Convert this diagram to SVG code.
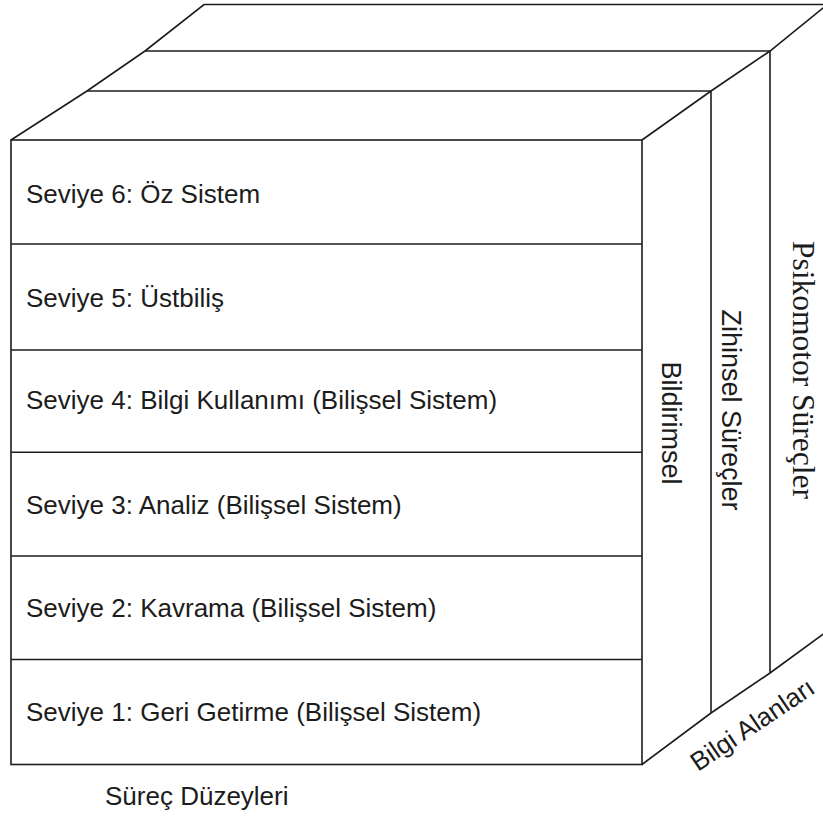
<svg xmlns="http://www.w3.org/2000/svg" width="823" height="816" viewBox="0 0 823 816">
  <style>
    .edge { fill: none; stroke: #1c1c1c; stroke-width: 1.6; stroke-linejoin: miter; }
    .lbl { font-family: "Liberation Sans", Arial, sans-serif; font-size: 26px; fill: #1c1c1c; }
    .serif { font-family: "Liberation Serif", "Times New Roman", serif; font-size: 31.5px; fill: #1c1c1c; }
  </style>
  <rect x="0" y="0" width="823" height="816" fill="#ffffff"/>

  <!-- top face of the cube: three bands receding to the back -->
  <g id="top-face">
    <polyline class="edge" points="11,140 87,91 145,51 204,4.5 823,4.5"/>
    <line class="edge" x1="87" y1="91" x2="711" y2="91"/>
    <line class="edge" x1="145" y1="51" x2="770" y2="51"/>
  </g>

  <!-- right side face: knowledge domains -->
  <g id="side-face">
    <polyline class="edge" points="642,140 711,91 770,51 828,4"/>
    <line class="edge" x1="711" y1="91" x2="711" y2="713"/>
    <line class="edge" x1="770" y1="51" x2="770" y2="673"/>
    <polyline class="edge" points="642,764.5 711,713 770,673 826,632"/>
  </g>

  <!-- front face: process levels -->
  <g id="front-face">
    <rect class="edge" x="11" y="140" width="631" height="624.5"/>
  </g>

  <g id="level-6">
    <text class="lbl" x="26" y="203">Seviye 6: Öz Sistem</text>
  </g>
  <g id="level-5">
    <line class="edge" x1="11" y1="244" x2="642" y2="244"/>
    <text class="lbl" x="26" y="307">Seviye 5: Üstbiliş</text>
  </g>
  <g id="level-4">
    <line class="edge" x1="11" y1="350" x2="642" y2="350"/>
    <text class="lbl" x="26" y="409">Seviye 4: Bilgi Kullanımı (Bilişsel Sistem)</text>
  </g>
  <g id="level-3">
    <line class="edge" x1="11" y1="452.3" x2="642" y2="452.3"/>
    <text class="lbl" x="26" y="514">Seviye 3: Analiz (Bilişsel Sistem)</text>
  </g>
  <g id="level-2">
    <line class="edge" x1="11" y1="556" x2="642" y2="556"/>
    <text class="lbl" x="26" y="617">Seviye 2: Kavrama (Bilişsel Sistem)</text>
  </g>
  <g id="level-1">
    <line class="edge" x1="11" y1="659.5" x2="642" y2="659.5"/>
    <text class="lbl" x="26" y="721">Seviye 1: Geri Getirme (Bilişsel Sistem)</text>
  </g>

  <!-- domain labels, written along the columns -->
  <g id="domain-declarative">
    <text class="lbl" transform="translate(662,423) rotate(90)" text-anchor="middle" style="font-size:27px">Bildirimsel</text>
  </g>
  <g id="domain-mental">
    <text class="lbl" transform="translate(722,410) rotate(90)" text-anchor="middle" style="font-size:27px">Zihinsel Süreçler</text>
  </g>
  <g id="domain-psychomotor">
    <text class="serif" transform="translate(793,370) rotate(90)" text-anchor="middle">Psikomotor Süreçler</text>
  </g>

  <!-- axis captions -->
  <g id="axis-domains">
    <text class="lbl" transform="translate(698,772) rotate(-34)">Bilgi Alanları</text>
  </g>
  <g id="axis-levels">
    <text class="lbl" x="105" y="805">Süreç Düzeyleri</text>
  </g>
</svg>
